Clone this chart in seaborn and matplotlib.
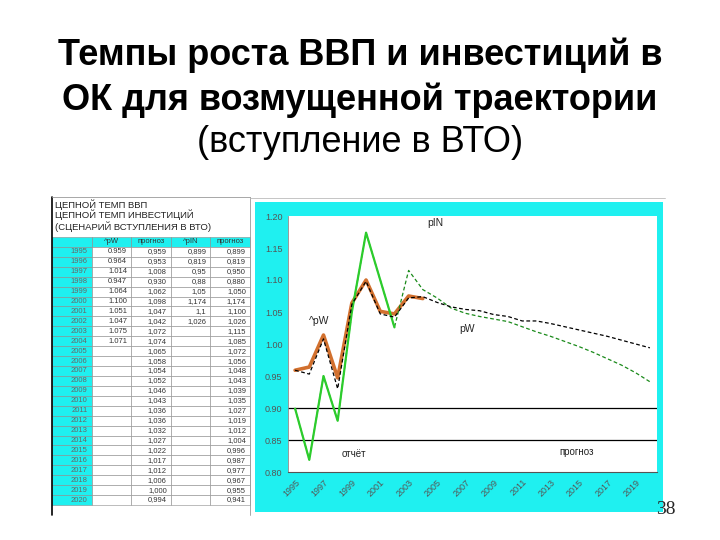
import matplotlib
matplotlib.use('Agg')
import matplotlib.pyplot as plt
import matplotlib.transforms as mtransforms
import seaborn as sns
import pandas as pd
from matplotlib.patches import Rectangle
from matplotlib.lines import Line2D

# данные: цепные темпы ВВП и инвестиций (сценарий вступления в ВТО)
years = list(range(1995, 2021))
pw_fact = [0.959, 0.964, 1.014, 0.947, 1.064, 1.100, 1.051, 1.047, 1.075, 1.071]
pw_prog = [0.959, 0.953, 1.008, 0.930, 1.062, 1.098, 1.047, 1.042, 1.072, 1.074,
           1.065, 1.058, 1.054, 1.052, 1.046, 1.043, 1.036, 1.036, 1.032, 1.027,
           1.022, 1.017, 1.012, 1.006, 1.000, 0.994]
pin_fact = [0.899, 0.819, 0.95, 0.88, 1.05, 1.174, 1.1, 1.026]
pin_prog = [0.899, 0.819, 0.950, 0.880, 1.050, 1.174, 1.100, 1.026, 1.115, 1.085,
            1.072, 1.056, 1.048, 1.043, 1.039, 1.035, 1.027, 1.019, 1.012, 1.004,
            0.996, 0.987, 0.977, 0.967, 0.955, 0.941]

title_lines = ["Темпы роста ВВП и инвестиций в", "ОК для возмущенной траектории",
               "(вступление в ВТО)"]
table_title = ["ЦЕПНОЙ ТЕМП ВВП", "ЦЕПНОЙ ТЕМП ИНВЕСТИЦИЙ", "(СЦЕНАРИЙ ВСТУПЛЕНИЯ В ВТО)"]
table_header = ["", "^pW", "прогноз", "^pIN", "прогноз"]

CYAN = '#1ff0f0'

sns.set_style('white')
plt.rcParams['font.family'] = ['Liberation Sans', 'DejaVu Sans']

fig = plt.figure(figsize=(7.2, 5.4), dpi=100)

# заголовок слайда
fig.text(0.5, 1 - 55 / 540, title_lines[0], ha='center', va='center', fontsize=26,
         fontweight='bold', color='black')
fig.text(0.5, 1 - 100 / 540, title_lines[1], ha='center', va='center', fontsize=26,
         fontweight='bold', color='black')
fig.text(0.5, 1 - 142 / 540, title_lines[2], ha='center', va='center', fontsize=26,
         color='black')

# таблица слева
tax = fig.add_axes([52 / 720, 25 / 540, 198 / 720, 318 / 540])
tax.axis('off')
for t, yy in zip(table_title, [0.975, 0.943, 0.906]):
    tax.text(0.015, yy, t, transform=tax.transAxes, fontsize=6.8, va='center', color='#222222')

def fmt(v, sep):
    return f"{v:.3f}".replace('.', sep)

def fmt_short(v):
    s = f"{v:.3f}".rstrip('0')
    return s.replace('.', ',')

rows = [table_header]
colours = [[CYAN] * 5]
for i, y in enumerate(years):
    r = [str(y),
         fmt(pw_fact[i], '.') if i < len(pw_fact) else '',
         fmt(pw_prog[i], ','),
         fmt_short(pin_fact[i]) if i < len(pin_fact) else '',
         fmt(pin_prog[i], ',')]
    rows.append(r)
    colours.append([CYAN, 'white', 'white', 'white', 'white'])

tbl = tax.table(cellText=rows, cellColours=colours, cellLoc='right',
                bbox=[0, 10 / 318, 1, 268 / 318])
tbl.auto_set_font_size(False)
tbl.set_fontsize(5.5)
for (r, c), cell in tbl.get_celld().items():
    cell.set_edgecolor('#8a8a8a')
    cell.set_linewidth(0.4)
    cell.get_text().set_color('#333333' if c > 0 else '#666666')
    if r == 0:
        cell.get_text().set_ha('center')
        cell._loc = 'center'
tax.add_line(Line2D([0, 0], [0, 1], transform=tax.transAxes, color='black', lw=1.2, clip_on=False))
tax.add_line(Line2D([0, 1], [1, 1], transform=tax.transAxes, color='#999999', lw=0.6, clip_on=False))
tax.add_line(Line2D([1, 1], [0, 1], transform=tax.transAxes, color='#999999', lw=0.6, clip_on=False))

# голубая подложка диаграммы
fig.add_artist(Line2D([250 / 720, 665 / 720], [1 - 198 / 540, 1 - 198 / 540],
                      transform=fig.transFigure, color='#bbbbbb', lw=0.6))
fig.add_artist(Rectangle((255 / 720, 28 / 540), 408 / 720, 310 / 540,
                         transform=fig.transFigure, facecolor=CYAN, edgecolor='none', zorder=0))

ax = fig.add_axes([288 / 720, 68 / 540, 369 / 720, 256 / 540])
ax.set_facecolor('white')

df_pw = pd.DataFrame({'year': years[:len(pw_fact)], 'v': pw_fact})
df_pwp = pd.DataFrame({'year': years, 'v': pw_prog})
df_pin = pd.DataFrame({'year': years[:len(pin_fact)], 'v': pin_fact})
df_pinp = pd.DataFrame({'year': years, 'v': pin_prog})

ax.axhline(0.90, color='black', lw=0.9, zorder=1)
ax.axhline(0.85, color='black', lw=0.9, zorder=1)

sns.lineplot(data=df_pw, x='year', y='v', ax=ax, color='#d2702e', lw=2.6, zorder=3)
sns.lineplot(data=df_pinp, x='year', y='v', ax=ax, color='#1a8a1a', lw=0.9,
             linestyle=(0, (3, 2)), zorder=3)
sns.lineplot(data=df_pin, x='year', y='v', ax=ax, color='#2ccc2c', lw=1.6, zorder=4)
sns.lineplot(data=df_pwp, x='year', y='v', ax=ax, color='black', lw=0.9,
             linestyle=(0, (3, 2)), zorder=5)

ax.set_xlim(1994.5, 2020.5)
ax.set_ylim(0.80, 1.20)
ax.set_xlabel('')
ax.set_ylabel('')
ax.set_yticks([0.80, 0.85, 0.90, 0.95, 1.00, 1.05, 1.10, 1.15, 1.20])
ax.set_yticklabels([f"{v:.2f}" for v in ax.get_yticks()], fontsize=6.5, color='#555555')
ax.set_xticks(years[::2])
ax.set_xticklabels([str(y) for y in years[::2]], rotation=45, ha='right',
                   rotation_mode='anchor', fontsize=6.5, color='#555555')
shift = mtransforms.ScaledTranslation(-6 / 100, 0, fig.dpi_scale_trans)
for lab in ax.get_xticklabels():
    lab.set_transform(lab.get_transform() + shift)
ax.tick_params(axis='both', length=0, pad=4)
for s in ['top', 'right']:
    ax.spines[s].set_visible(False)
ax.spines['left'].set_color('#888888')
ax.spines['bottom'].set_color('#555555')
ax.spines['left'].set_linewidth(0.6)
ax.spines['bottom'].set_linewidth(0.8)

ax.text(2004.3, 1.185, 'pIN', fontsize=7.5)
ax.text(1996.0, 1.032, '^pW', fontsize=7.5)
ax.text(2006.6, 1.018, 'pW', fontsize=7.5)
ax.text(1998.3, 0.823, 'отчёт', fontsize=7, color='#222222')
ax.text(2013.6, 0.827, 'прогноз', fontsize=7, color='#222222')

fig.text(666 / 720, 1 - 509 / 540, '38', ha='center', va='center', fontsize=14,
         family='Liberation Serif')

fig.savefig('out.png', dpi=100)
